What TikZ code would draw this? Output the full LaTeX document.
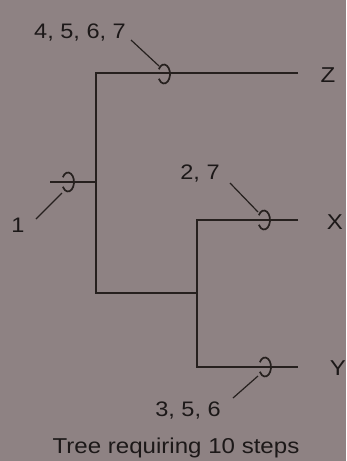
\documentclass[tikz,border=0pt]{standalone}
\usepackage{fontspec}
\setmainfont{Liberation Sans}[FakeStretch=1.12]
\begin{document}
\begin{tikzpicture}[x=1pt,y=-1pt,
  ln/.style={line width=1.7pt,draw=lncol},
  lead/.style={line width=1.2pt,draw=lncol},
  lbl/.style={font=\fontsize{21}{23}\selectfont,text=txtcol,inner sep=0pt},
  tip/.style={font=\fontsize{21.5}{24}\selectfont,text=txtcol,inner sep=0pt}]
\definecolor{bgcol}{RGB}{142,130,131}
\definecolor{lncol}{RGB}{38,32,30}
\definecolor{txtcol}{RGB}{28,24,24}
\fill[bgcol] (0,0) rectangle (346,461);
\useasboundingbox (0,0) rectangle (346,461);
% junctions
\coordinate (top) at (96,73);
\coordinate (zend) at (298,73);
\coordinate (rootl) at (50,182);
\coordinate (rootr) at (96,182);
\coordinate (bot) at (96,293);
\coordinate (j2) at (197,293);
\coordinate (xtop) at (197,220);
\coordinate (xend) at (298,220);
\coordinate (ybot) at (197,367);
\coordinate (yend) at (298,367);
% ellipse centres
\coordinate (ez) at (164,74);
\coordinate (er) at (68,182);
\coordinate (ex) at (264,220);
\coordinate (ey) at (265,367);
% tree lines
\draw[ln] (zend) -- (top) -- (bot) -- (j2);
\draw[ln] (xend) -- (xtop) -- (ybot) -- (yend);
\draw[ln] (rootl) -- (rootr);
% ellipses
\foreach \e in {ez,er,ex,ey}
  \draw[ln] ([shift={(-150:6 and 9.5)}]\e) arc[start angle=-150,end angle=150,x radius=6,y radius=9.5];
% tip labels
\node[tip] (Z) at (328,75) {Z};
\node[tip] (X) at (335,222) {X};
\node[tip] (Y) at (338,368) {Y};
% state labels
\node[lbl] (l4) at (80,33) {4, 5, 6, 7};
\node[lbl] (l1) at (18,225) {1};
\node[lbl] (l2) at (200,174) {2, 7};
\node[lbl] (l3) at (188,411) {3, 5, 6};
\coordinate (a4) at (131,40);
\coordinate (b4) at (159,66);
\coordinate (a1) at (36,219);
\coordinate (b1) at (62,193);
\coordinate (a2) at (230,183);
\coordinate (b2) at (258,212);
\coordinate (a3) at (233,398);
\coordinate (b3) at (258,376);
\draw[lead] (a4) -- (b4);
\draw[lead] (a1) -- (b1);
\draw[lead] (a2) -- (b2);
\draw[lead] (a3) -- (b3);
% caption
\node[tip] (cap) at (176,448) {Tree requiring 10 steps};
\end{tikzpicture}
\end{document}
